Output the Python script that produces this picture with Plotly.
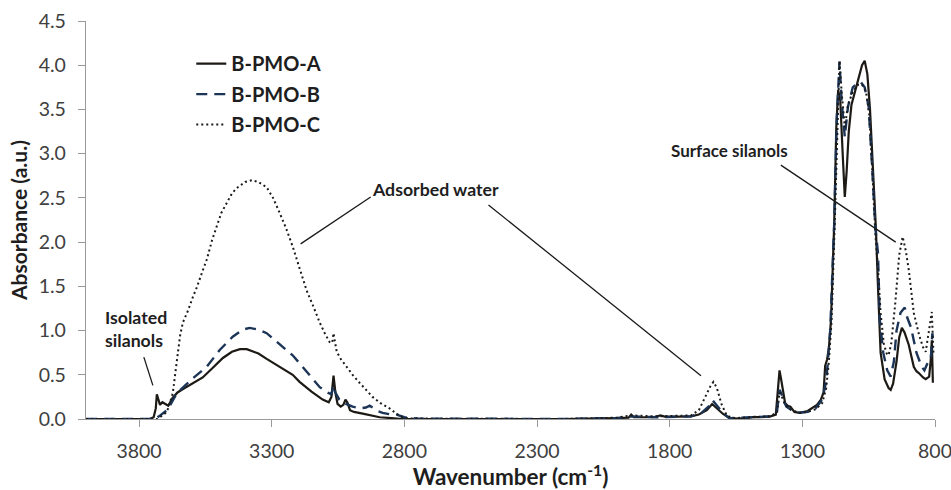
import plotly.graph_objects as go

# ---- data ----
wn_a = [4000, 3760, 3745, 3737, 3733, 3728, 3721, 3712, 3700, 3690, 3673, 3655, 3639, 3615, 3597, 3560, 3522, 3484, 3450, 3420, 3394, 3350, 3319, 3270, 3221, 3195, 3150, 3108, 3085, 3075, 3067, 3060, 3052, 3040, 3030, 3022, 3014, 3005, 2990, 2957, 2920, 2893, 2850, 2807, 2600, 2200, 2000, 1955, 1945, 1935, 1860, 1835, 1815, 1720, 1690, 1660, 1640, 1625, 1600, 1575, 1540, 1500, 1480, 1460, 1420, 1400, 1392, 1386, 1380, 1374, 1365, 1355, 1345, 1330, 1310, 1280, 1264, 1245, 1230, 1220, 1214, 1207, 1200, 1192, 1180, 1172, 1165, 1157, 1148, 1140, 1133, 1125, 1115, 1106, 1095, 1087, 1075, 1065, 1055, 1045, 1035, 1023, 1015, 1005, 990, 975, 967, 958, 945, 935, 925, 915, 899, 880, 870, 861, 845, 835, 822, 816, 812, 808]
abs_a = [0, 0, 0.02, 0.12, 0.28, 0.22, 0.16, 0.19, 0.17, 0.15, 0.24, 0.30, 0.33, 0.37, 0.40, 0.47, 0.58, 0.69, 0.76, 0.79, 0.79, 0.74, 0.68, 0.59, 0.50, 0.42, 0.31, 0.22, 0.19, 0.25, 0.49, 0.30, 0.17, 0.14, 0.16, 0.22, 0.18, 0.10, 0.08, 0.06, 0.04, 0.02, 0.01, 0.0, 0.0, 0.0, 0.01, 0.015, 0.05, 0.02, 0.02, 0.04, 0.025, 0.03, 0.05, 0.10, 0.17, 0.13, 0.06, 0.01, 0.005, 0.015, 0.025, 0.02, 0.03, 0.05, 0.30, 0.55, 0.45, 0.32, 0.18, 0.15, 0.14, 0.08, 0.07, 0.09, 0.12, 0.16, 0.22, 0.30, 0.60, 0.67, 0.80, 1.12, 2.2, 3.3, 3.72, 3.6, 3.0, 2.51, 2.8, 3.25, 3.55, 3.65, 3.75, 3.85, 4.0, 4.05, 3.9, 3.5, 2.9, 2.17, 1.50, 0.75, 0.45, 0.35, 0.33, 0.40, 0.65, 0.92, 1.03, 0.98, 0.84, 0.59, 0.54, 0.52, 0.47, 0.45, 0.48, 0.67, 0.89, 0.41]

wn_b = [4000, 3740, 3725, 3710, 3695, 3680, 3658, 3630, 3597, 3545, 3496, 3447, 3410, 3383, 3350, 3319, 3259, 3221, 3195, 3160, 3119, 3090, 3075, 3067, 3060, 3045, 3020, 2995, 2965, 2945, 2931, 2915, 2900, 2882, 2850, 2829, 2800, 2750, 2200, 2000, 1945, 1850, 1720, 1680, 1650, 1638, 1625, 1600, 1575, 1500, 1420, 1395, 1386, 1378, 1370, 1360, 1340, 1310, 1280, 1250, 1225, 1212, 1205, 1195, 1180, 1170, 1160, 1152, 1140, 1128, 1110, 1090, 1080, 1065, 1050, 1037, 1025, 1015, 1008, 995, 980, 967, 955, 945, 930, 914, 905, 891, 870, 850, 840, 830, 816, 810, 806]
abs_b = [0, 0, 0.03, 0.07, 0.10, 0.17, 0.29, 0.37, 0.46, 0.59, 0.78, 0.93, 1.01, 1.03, 1.01, 0.97, 0.82, 0.72, 0.63, 0.50, 0.36, 0.30, 0.28, 0.38, 0.30, 0.22, 0.17, 0.14, 0.12, 0.13, 0.15, 0.12, 0.09, 0.07, 0.05, 0.05, 0.02, 0.005, 0.0, 0.01, 0.03, 0.02, 0.03, 0.07, 0.15, 0.21, 0.16, 0.07, 0.01, 0.02, 0.03, 0.10, 0.33, 0.28, 0.20, 0.14, 0.10, 0.07, 0.08, 0.12, 0.22, 0.40, 0.60, 1.0, 2.2, 3.4, 4.04, 3.6, 3.19, 3.53, 3.75, 3.8, 3.81, 3.75, 3.53, 2.85, 2.17, 1.88, 1.12, 0.75, 0.55, 0.48, 0.65, 1.0, 1.2, 1.26, 1.15, 1.04, 0.75, 0.59, 0.55, 0.62, 0.67, 0.97, 0.85]

wn_c = [4000, 3730, 3712, 3700, 3690, 3673, 3660, 3645, 3635, 3615, 3597, 3582, 3560, 3545, 3525, 3507, 3490, 3470, 3450, 3432, 3400, 3375, 3350, 3319, 3295, 3270, 3245, 3221, 3195, 3168, 3140, 3119, 3100, 3082, 3072, 3067, 3062, 3055, 3040, 3018, 2995, 2969, 2945, 2920, 2890, 2856, 2830, 2807, 2780, 2200, 2000, 1945, 1850, 1720, 1690, 1665, 1645, 1635, 1622, 1605, 1585, 1560, 1500, 1420, 1395, 1386, 1378, 1365, 1340, 1310, 1280, 1250, 1225, 1210, 1200, 1190, 1178, 1168, 1160, 1152, 1140, 1128, 1110, 1090, 1075, 1060, 1048, 1037, 1025, 1015, 1005, 993, 982, 975, 965, 950, 935, 922, 910, 899, 880, 860, 845, 835, 825, 816, 812, 806]
abs_c = [0, 0, 0.04, 0.07, 0.12, 0.29, 0.60, 0.95, 1.09, 1.23, 1.38, 1.49, 1.68, 1.80, 2.02, 2.17, 2.33, 2.44, 2.55, 2.61, 2.68, 2.70, 2.68, 2.62, 2.50, 2.33, 2.15, 1.95, 1.70, 1.45, 1.25, 1.09, 0.97, 0.87, 0.86, 0.97, 0.88, 0.76, 0.68, 0.59, 0.50, 0.41, 0.33, 0.25, 0.18, 0.12, 0.06, 0.02, 0.005, 0.0, 0.015, 0.04, 0.03, 0.04, 0.10, 0.25, 0.38, 0.42, 0.35, 0.17, 0.04, 0.01, 0.02, 0.03, 0.08, 0.30, 0.26, 0.16, 0.10, 0.07, 0.08, 0.11, 0.18, 0.35, 0.65, 1.1, 2.2, 3.4, 4.05, 3.7, 3.3, 3.55, 3.7, 3.78, 3.78, 3.7, 3.45, 2.85, 2.1, 1.7, 1.2, 0.85, 0.74, 0.72, 0.85, 1.3, 1.85, 2.06, 1.90, 1.69, 1.20, 0.95, 0.81, 0.76, 0.95, 1.15, 1.21, 0.75]

series_names = ["B-PMO-A", "B-PMO-B", "B-PMO-C"]
x_ticks = [3800, 3300, 2800, 2300, 1800, 1300, 800]
y_ticks = [0, 0.5, 1.0, 1.5, 2.0, 2.5, 3.0, 3.5, 4.0, 4.5]

FONT = "Lato"
TXT = "#1e1e1e"
GREY = "#9a9a9a"

fig = go.Figure()
fig.add_trace(go.Scatter(x=wn_a, y=abs_a, mode="lines", name=series_names[0], legendgroup="a",
                         line=dict(color="#1d1a15", width=2.2)))
fig.add_trace(go.Scatter(x=wn_b, y=abs_b, mode="lines", name=series_names[1], legendgroup="b",
                         line=dict(color="#1c3557", width=2.4, dash="11px,7px")))
fig.add_trace(go.Scatter(x=wn_c, y=abs_c, mode="lines", name=series_names[2], legendgroup="c",
                         line=dict(color="#1a1a1a", width=2, dash="2px,3px")))

# annotation leader lines (data coordinates)
lines = [
    (3782, 0.70, 3748, 0.38),
    (2927, 2.51, 3191, 1.98),
    (2483, 2.42, 1682, 0.49),
    (1381, 2.87, 948, 2.00),
]
for x0, y0, x1, y1 in lines:
    fig.add_shape(type="line", x0=x0, y0=y0, x1=x1, y1=y1, xref="x", yref="y",
                  line=dict(color="#1a1a1a", width=1.3))

labels = [
    (3812, 1.02, "<b>Isolated<br>silanols</b>", 17.7),
    (2683, 2.60, "<b>Adsorbed water</b>", 17.7),
    (1576, 3.04, "<b>Surface silanols</b>", 17),
]
for x, y, t, s in labels:
    fig.add_annotation(x=x, y=y, text=t, showarrow=False, xref="x", yref="y",
                       font=dict(family=FONT, size=s, color=TXT), align="left")

fig.update_layout(
    width=951, height=490,
    margin=dict(l=86, r=16, t=21, b=71, autoexpand=False),
    paper_bgcolor="white", plot_bgcolor="white",
    font=dict(family=FONT, color=TXT),
    showlegend=True,
    legend=dict(x=0.124, y=0.942, xanchor="left", yanchor="top",
                font=dict(family=FONT, size=20, color=TXT, weight="bold"),
                bgcolor="rgba(0,0,0,0)", itemwidth=30, tracegroupgap=1.5,
                traceorder="grouped"),
    xaxis=dict(range=[4000, 800], tickvals=x_ticks, ticktext=[str(v) for v in x_ticks],
               automargin=False,
               showgrid=False, zeroline=False, showline=True, linecolor=GREY, linewidth=1.3,
               ticks="outside", ticklen=7, tickcolor=GREY, tickwidth=1.3,
               ticklabelstandoff=7, ticklabeloverflow="allow",
               tickfont=dict(family=FONT, size=19.5, color="#404040"),
               title=dict(text="<b>Wavenumber (cm<sup>-1</sup>)</b>",
                          font=dict(family=FONT, size=22.5, color=TXT), standoff=10)),
    yaxis=dict(range=[0, 4.5], tickvals=y_ticks, tickformat=".1f",
               automargin=False,
               showgrid=False, zeroline=False, showline=True, linecolor=GREY, linewidth=1.3,
               ticks="outside", ticklen=7, tickcolor=GREY, tickwidth=1.3,
               ticklabelstandoff=8,
               tickfont=dict(family=FONT, size=19.5, color="#404040"),
               title=dict(text="<b>Absorbance (a.u.)</b>",
                          font=dict(family=FONT, size=21, color=TXT), standoff=5)),
)

fig.write_html("out.html")
